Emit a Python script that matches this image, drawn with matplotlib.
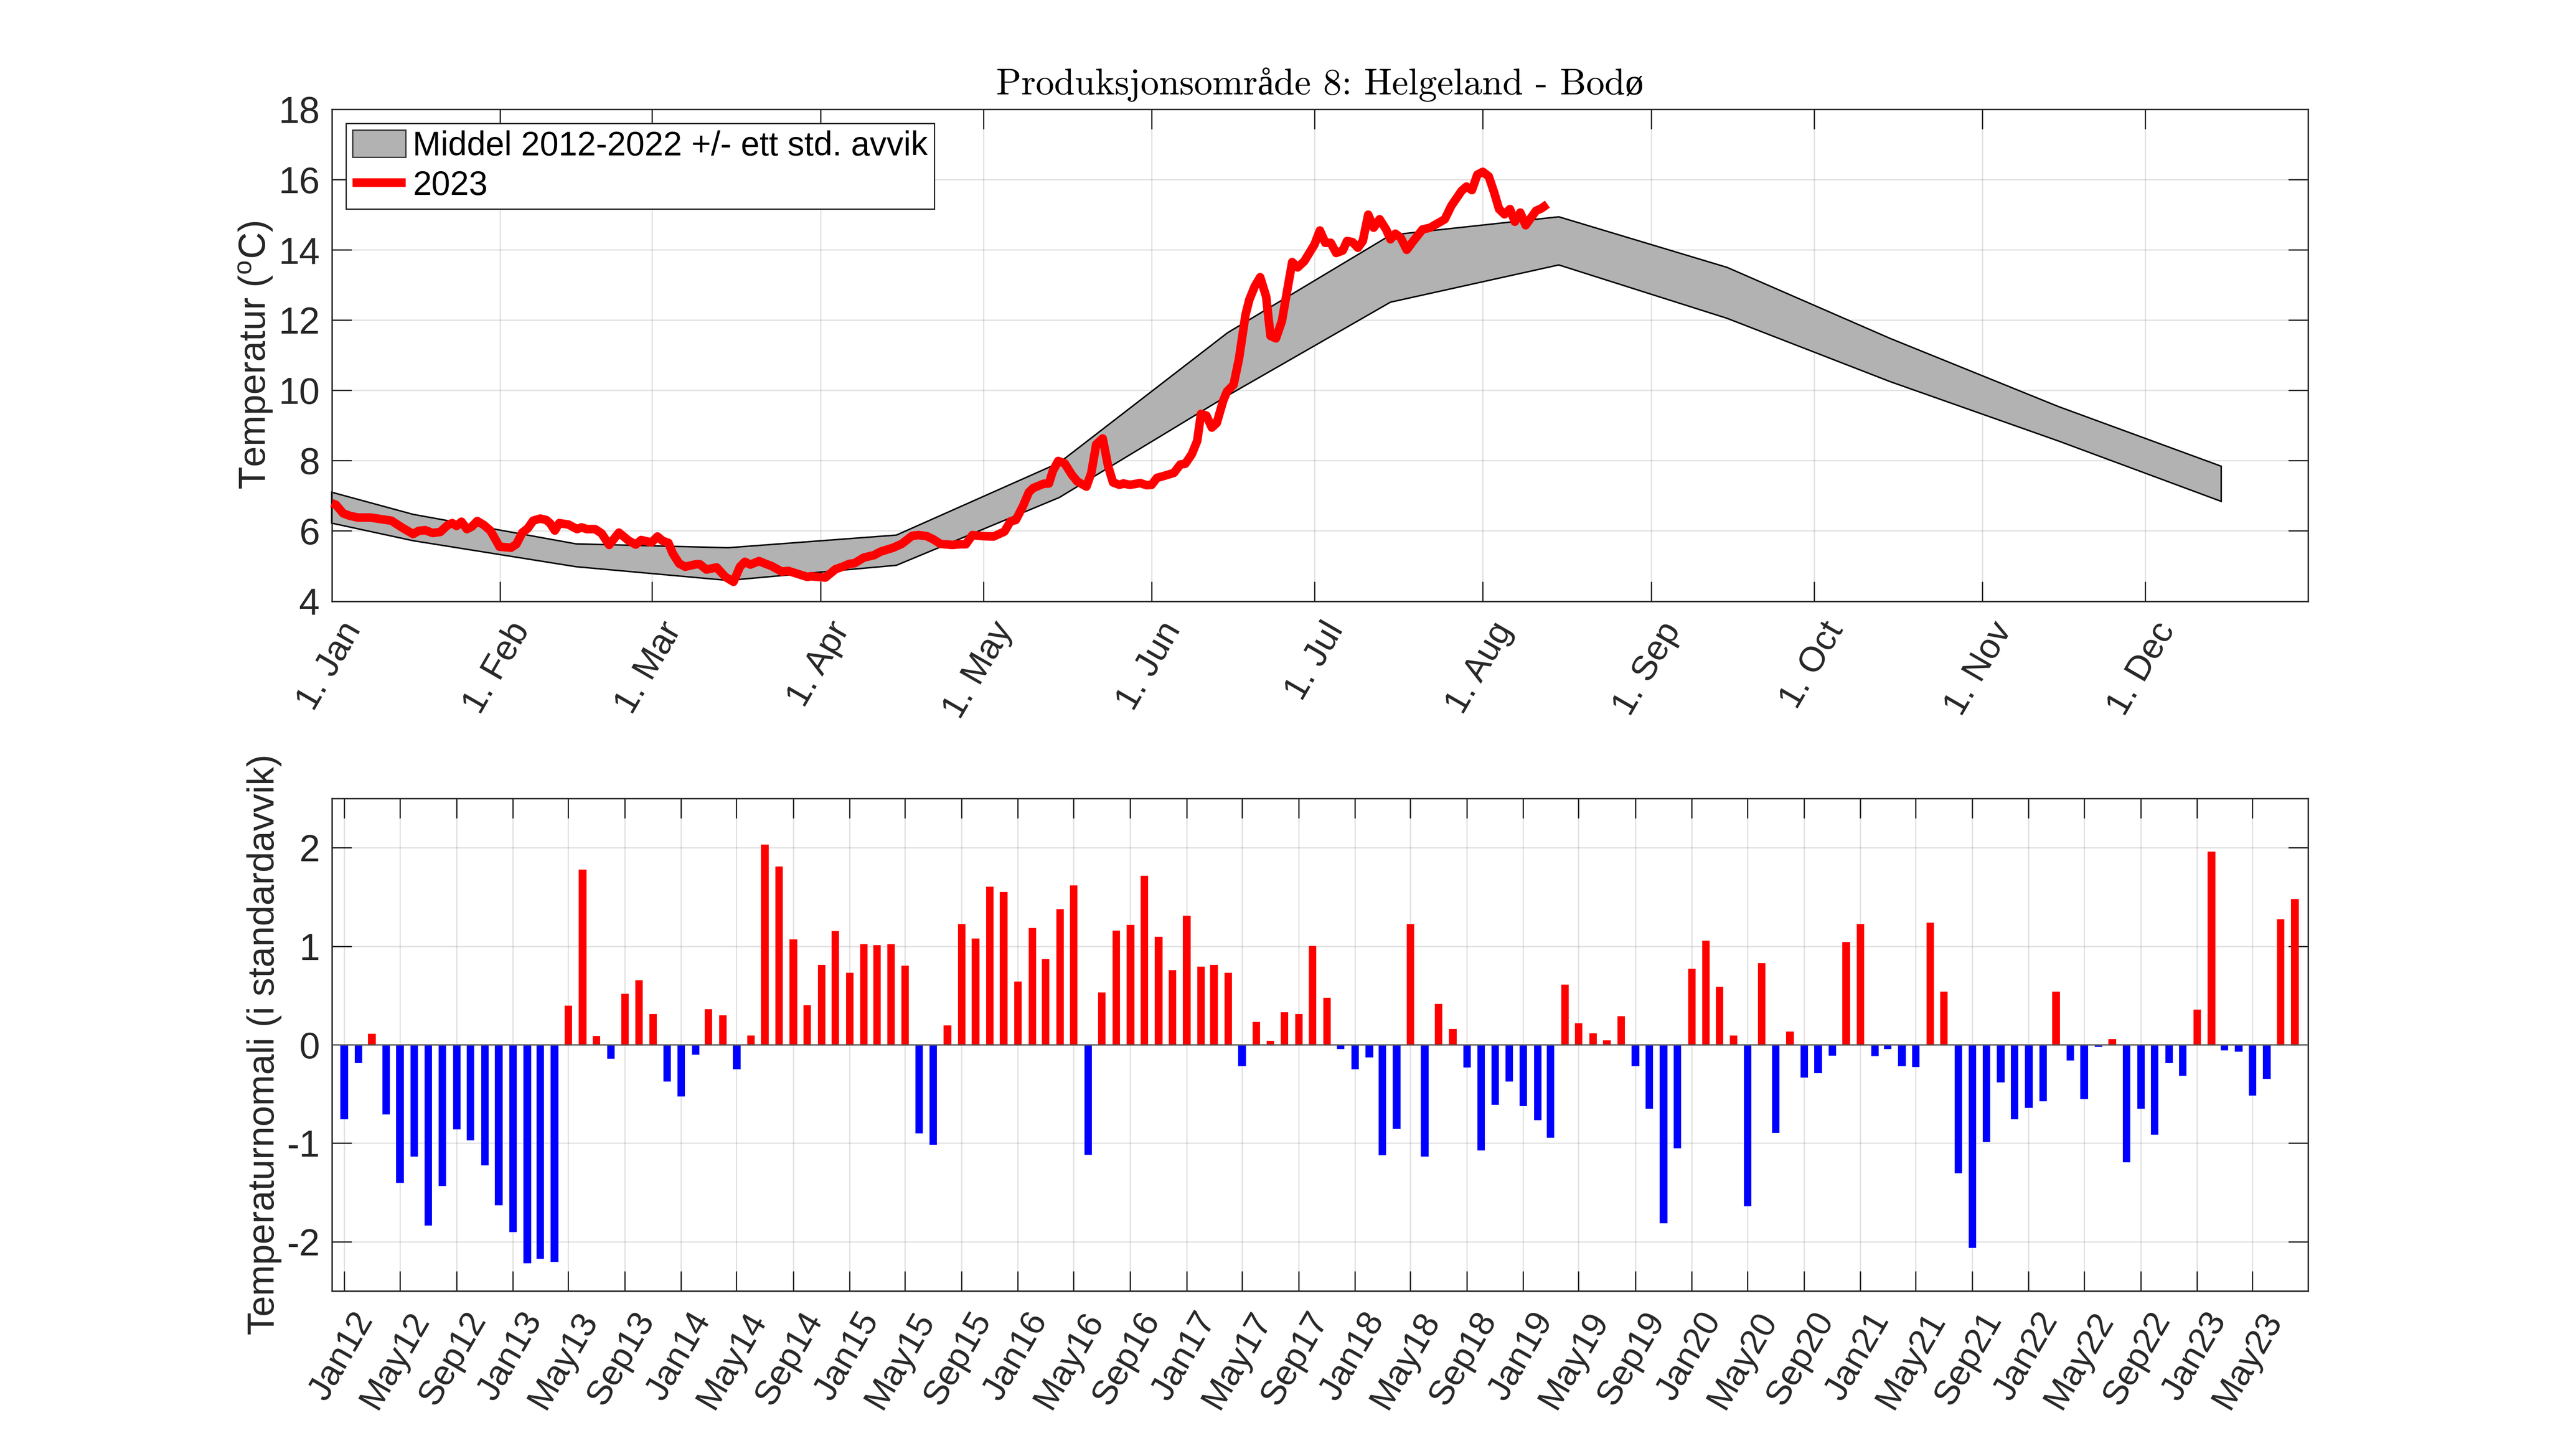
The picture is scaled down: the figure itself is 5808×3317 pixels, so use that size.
import numpy as np
import pandas as pd
import matplotlib
matplotlib.use("Agg")
import matplotlib.pyplot as plt
from matplotlib.patches import Patch
from matplotlib.transforms import ScaledTranslation

plt.rcParams['font.family'] = ['Liberation Sans', 'DejaVu Sans']
plt.rcParams['mathtext.default'] = 'regular'

# --- climatology band (day of year) ---
band_days = [1, 16, 46, 74, 105, 135, 166, 196, 227, 258, 288, 319, 349]
band_upper = [7.10, 6.47, 5.63, 5.52, 5.88, 7.94, 11.64, 14.42, 14.94, 13.50, 11.48, 9.54, 7.84]
band_lower = [6.22, 5.72, 4.98, 4.59, 5.02, 6.95, 9.85, 12.51, 13.57, 12.05, 10.25, 8.56, 6.84]

# --- 2023 temperature ---
days_2023 = [1.0,1.8,3.1,4.3,5.8,8.1,12,13.9,16,17,18.2,19.6,21,22.4,23.2,24,24.9,25.9,26.8,27.8,29,30.2,31.3,31.9,
 34,35,36.1,37.1,38.1,39.4,40.5,41.2,42.1,42.9,44.6,46.2,47,48,49.5,50.7,52.1,53.9,55.7,57,58,59.9,61,61.9,63,63.8,
 65,66.1,68.1,68.8,70,71.9,73.5,75,76.2,77.1,78.1,79.7,80.8,82,83.9,85.1,88.6,89.3,91.9,93.8,95.1,96.3,97.3,99,100.9,
 102.1,104.4,106,107.9,109.1,110.6,111.8,113.1,115.3,116.8,117.8,119,120.9,122.9,124.9,126,127,128.3,129.4,130.2,
 132.1,133.1,133.8,134.8,136,137.3,138.3,140,140.9,141.8,143,144,144.9,146.1,146.8,148,149.9,151.1,152,153,154.2,
 156.1,157.3,158.2,159.4,160.4,161.1,162.1,163.1,164,165.2,165.9,167.1,168.1,169.3,170,171,172,173.1,173.9,174.9,
 176,177,177.9,178.9,180.1,182,183,184,185,186,187.2,188,189,190,190.9,191.9,192.9,194,195.2,196,196.9,197.9,199,
 200.2,201.9,203.3,206,207.2,207.9,209.1,210,211,212,213,214.1,215.1,216,217,218,218.9,219.9,220.9,222.8,223.8,224.9]
temps_2023 = [6.79,6.74,6.50,6.43,6.38,6.38,6.29,6.10,5.91,6.0,6.02,5.94,5.97,6.17,6.22,6.14,6.26,6.05,6.12,6.28,6.17,6.01,5.72,5.55,
 5.52,5.62,5.95,6.07,6.29,6.35,6.31,6.22,6.01,6.22,6.18,6.05,6.10,6.05,6.05,5.93,5.60,5.95,5.72,5.61,5.74,5.67,5.84,5.72,5.66,5.36,
 5.07,4.98,5.05,5.05,4.90,4.96,4.69,4.55,4.98,5.12,5.04,5.14,5.07,5.0,4.84,4.86,4.69,4.71,4.67,4.91,4.98,5.06,5.08,5.24,5.31,
 5.41,5.52,5.63,5.86,5.88,5.85,5.76,5.63,5.60,5.62,5.62,5.88,5.85,5.84,5.98,6.27,6.31,6.70,7.10,7.22,
 7.34,7.35,7.70,7.99,7.92,7.60,7.41,7.26,7.65,8.46,8.63,7.84,7.38,7.31,7.35,7.31,7.36,7.30,7.31,7.51,7.56,
 7.65,7.89,7.91,8.18,8.56,9.33,9.28,8.94,9.07,9.71,9.97,10.16,10.90,12.15,12.58,12.96,13.22,12.67,11.55,11.48,
 11.97,12.86,13.65,13.50,13.67,14.15,14.55,14.20,14.20,13.91,13.98,14.25,14.22,14.06,14.25,15.0,14.63,14.87,14.58,14.30,14.46,14.34,14.0,
 14.25,14.58,14.63,14.87,15.25,15.41,15.68,15.80,15.70,16.14,16.22,16.09,15.63,15.16,15.01,15.16,14.80,15.06,14.70,15.11,15.18,15.30]

month_ticks = [1, 32, 60, 91, 121, 152, 182, 213, 244, 274, 305, 335]
month_labels = ['1. Jan', '1. Feb', '1. Mar', '1. Apr', '1. May', '1. Jun', '1. Jul', '1. Aug',
                '1. Sep', '1. Oct', '1. Nov', '1. Dec']

# --- monthly anomalies Jan 2012 - Aug 2023 ---
anomaly = [-0.754,-0.184,0.11,-0.706,-1.40,-1.13,-1.83,-1.43,-0.857,-0.969,-1.222,-1.625,
 -1.90,-2.215,-2.17,-2.20,0.396,1.78,0.089,-0.14,0.515,0.655,0.314,-0.372,
 -0.522,-0.099,0.362,0.30,-0.246,0.092,2.034,1.809,1.068,0.40,0.812,1.154,
 0.73,1.02,1.01,1.02,0.80,-0.894,-1.01,0.195,1.225,1.078,1.604,1.553,
 0.642,1.184,0.87,1.375,1.618,-1.113,0.529,1.16,1.215,1.717,1.096,0.758,
 1.31,0.795,0.809,0.73,-0.212,0.232,0.041,0.331,0.31,1.003,0.478,-0.038,
 -0.246,-0.123,-1.12,-0.85,1.225,-1.13,0.416,0.16,-0.229,-1.068,-0.604,-0.372,
 -0.621,-0.761,-0.942,0.611,0.218,0.116,0.044,0.29,-0.212,-0.645,-1.809,-1.048,
 0.771,1.055,0.59,0.092,-1.635,0.829,-0.891,0.133,-0.331,-0.287,-0.106,1.044,
 1.225,-0.113,-0.041,-0.212,-0.222,1.239,0.539,-1.30,-2.058,-0.983,-0.379,-0.751,
 -0.638,-0.57,0.539,-0.154,-0.55,-0.02,0.058,-1.191,-0.645,-0.908,-0.184,-0.311,
 0.355,1.962,-0.055,-0.068,-0.512,-0.345,1.273,1.478]

W, H, DPI = 5808, 3317, 300
INK = '#262626'
fig = plt.figure(figsize=(W / DPI, H / DPI), dpi=DPI, facecolor='white')

def axes_px(left, right, top, bottom):
    return fig.add_axes([left / W, 1 - bottom / H, (right - left) / W, (bottom - top) / H])

def style(ax, ticklen=10.8):
    ax.set_axisbelow(True)
    ax.grid(True, color='#262626', alpha=0.13, lw=0.7)
    ax.tick_params(axis='both', which='major', direction='in', length=ticklen, width=0.7,
                   color=INK, labelcolor=INK, labelsize=20.3, top=True, right=True)
    ax.tick_params(axis='y', pad=6.5)
    for s in ax.spines.values():
        s.set_linewidth(0.8)
        s.set_color(INK)

def rotate_labels(ax, pad):
    ax.tick_params(axis='x', pad=pad, labelsize=19.2)
    shift = ScaledTranslation(17 / DPI, 0, fig.dpi_scale_trans)
    for lab in ax.get_xticklabels():
        lab.set_rotation(60)
        lab.set_rotation_mode('anchor')
        lab.set_ha('right')
        lab.set_va('top')
        lab.set_transform(lab.get_transform() + shift)

# --- upper panel ---
ax1 = axes_px(755.5, 5257, 249, 1369.5)
style(ax1)
ax1.fill_between(band_days, band_lower, band_upper, facecolor='#b2b2b2', edgecolor='none', zorder=2)
ax1.fill(np.r_[band_days, band_days[::-1]], np.r_[band_upper, band_lower[::-1]],
         facecolor='none', edgecolor='black', lw=0.8, zorder=2.1, clip_on=False)
line_2023, = ax1.plot(days_2023, temps_2023, color='#ff0000', lw=4.7, solid_joinstyle='round',
                      solid_capstyle='butt', zorder=3, clip_on=False)
ax1.set_xlim(1, 365)
ax1.set_ylim(4, 18)
ax1.set_yticks(np.arange(4, 19, 2))
ax1.set_xticks(month_ticks)
ax1.set_xticklabels(month_labels)
rotate_labels(ax1, 8.5)
ax1.set_ylabel('Temperatur ($^{o}$C)', fontsize=20.3, color=INK)
ax1.yaxis.set_label_coords((625 - 755.5) / 4501.5, 0.5)

band_handle = Patch(facecolor='#b2b2b2', edgecolor='#333333', lw=0.7)
leg = ax1.legend([band_handle, line_2023], ['Middel 2012-2022 +/- ett std. avvik', '2023'],
                 loc='upper left', bbox_to_anchor=((788 - 755.5) / 4501.5, 1 - (281 - 249) / 1120.5),
                 borderaxespad=0, fontsize=18.4, frameon=True, fancybox=False, framealpha=1,
                 edgecolor=INK, handlelength=1.58, handleheight=0.87, handletextpad=0.2,
                 labelspacing=0.22, borderpad=0.2)
leg.get_frame().set_linewidth(0.7)

ax1.text(0.5, 1 + (249 - 215) / 1120.5, 'Produksjonsområde 8: Helgeland - Bodø',
         transform=ax1.transAxes, ha='center', va='baseline', fontsize=20.2, color='black',
         family=['cmr10', 'Liberation Serif', 'DejaVu Serif'])

# --- lower panel ---
months = pd.date_range('2012-01-01', periods=len(anomaly), freq='MS')
month_days = (months - months[0]).days.to_numpy()
vals = np.array(anomaly)
pos = vals >= 0

ax2 = axes_px(755.5, 5257, 1819, 2941)
style(ax2)
ax2.bar(month_days[pos], vals[pos], width=15.5, color='#ff0000', edgecolor='#ff0000', lw=0.2, zorder=2)
ax2.bar(month_days[~pos], vals[~pos], width=15.5, color='#0000ff', edgecolor='#0000ff', lw=0.2, zorder=2)
ax2.axhline(0, color='#555555', lw=0.7, zorder=3)
ax2.set_xlim(-26.7, 4259)
ax2.set_ylim(-2.5, 2.5)
ax2.set_yticks([-2, -1, 0, 1, 2])
ax2.set_yticklabels(['-2', '-1', '0', '1', '2'])
ax2.set_xticks(month_days[::4])
ax2.set_xticklabels(months[::4].strftime('%b%y'))
rotate_labels(ax2, 8.5)
ax2.set_ylabel('Temperaturnomali (i standardavvik)', fontsize=20.3, color=INK)
ax2.yaxis.set_label_coords((642 - 755.5) / 4501.5, 0.5)

fig.savefig('out.png', dpi=DPI, facecolor='white')
